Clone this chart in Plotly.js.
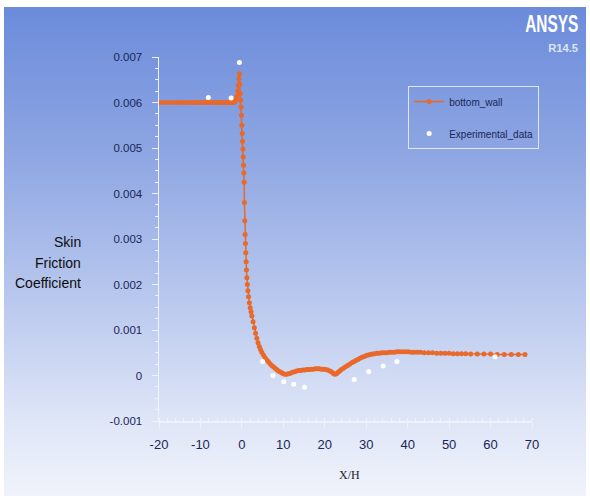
<!DOCTYPE html>
<html>
<head>
<meta charset="utf-8">
<script src="https://cdn.plot.ly/plotly-3.0.1.min.js"></script>
<style>
  html, body { margin: 0; padding: 0; background: #ffffff; }
  #wrap { position: relative; width: 590px; height: 502px; overflow: hidden; }
  #bg { position: absolute; left: 4px; top: 7px; width: 582px; height: 489px;
        background: linear-gradient(to bottom, #6b8bdb 0%, #8ea6e2 30%, #b9c8ee 60%, #dfe6f7 85%, #f0f3fb 100%); }
  #chart { position: absolute; left: 0; top: 0; width: 590px; height: 502px; }
</style>
</head>
<body>
<div id="wrap"><div id="bg"></div><div id="chart"></div></div>
<script>
// ---- data ----
const wallX = [
  -20, -19.1, -18.2, -17.3, -16.4, -15.5, -14.7, -13.9, -13.1, -12.3, -11.6, -10.9, -10.2, -9.5, -8.9, -8.3,
  -7.7, -7.2, -6.7, -6.2, -5.7, -5.3, -4.9, -4.5, -4.1, -3.8, -3.5, -3.2, -2.9, -2.6, -2.4, -2.2, -2.0,
  -1.8, -1.6, -1.4, -1.2, -1.0, -0.85, -0.7, -0.6,
  -0.5, -0.4, -0.3, -0.2, -0.1, 0.0, 0.08, 0.16, 0.24, 0.32, 0.4, 0.47, 0.54, 0.6, 0.7, 0.78, 0.86, 0.94,
  1.02, 1.1, 1.2, 1.32, 1.45, 1.6, 1.8, 2.0, 2.2, 2.4, 2.7, 3.0, 3.3, 3.6, 3.9, 4.2, 4.5, 4.8, 5.2, 5.6,
  6.0, 6.4, 6.8, 7.2, 7.6, 8.0, 8.4, 8.8, 9.2, 9.6, 10.0, 10.4, 10.8, 11.2, 11.7, 12.2, 12.7, 13.2, 13.7,
  14.2, 14.7, 15.2, 15.7, 16.2, 16.7, 17.2, 17.7, 18.2, 18.7, 19.2, 19.7, 20.2, 20.7, 21.2, 21.6, 22.0,
  22.4, 22.8, 23.2, 23.6, 24.0, 24.5, 25.0, 25.5, 26.0, 26.5, 27.0, 27.5, 28.0, 28.5, 29.0, 29.5, 30.0,
  30.5, 31.0, 31.5, 32.0, 32.6, 33.2, 33.8, 34.4, 35.0, 35.6, 36.2, 36.8, 37.4, 38.0, 38.7, 39.4, 40.1,
  40.8, 41.5, 42.3, 43.1, 44.0, 45.0, 46.0, 47.0, 48.0, 49.0, 50.0, 51.0, 52.0, 53.0, 54.0, 55.2, 56.8,
  58.4, 60.0, 61.6, 63.3, 65.0, 66.7, 68.3
];
const wallY = [
  0.00600, 0.00600, 0.00600, 0.00600, 0.00600, 0.00600, 0.00600, 0.00600, 0.00600, 0.00600, 0.00600, 0.00600, 0.00600, 0.00600, 0.00600, 0.00600,
  0.00600, 0.00600, 0.00600, 0.00600, 0.00600, 0.00600, 0.00600, 0.00600, 0.00600, 0.00600, 0.00600, 0.00600, 0.00600, 0.00600, 0.00600, 0.00600, 0.00600,
  0.00601, 0.00603, 0.00607, 0.00614, 0.00625, 0.00638, 0.00652, 0.00663,
  0.00640, 0.00620, 0.00605, 0.00590, 0.00572, 0.00550, 0.00532, 0.00515, 0.00498, 0.00480, 0.00462, 0.00445, 0.00425, 0.00380, 0.00340, 0.00310, 0.00290, 0.00270,
  0.00250, 0.00232, 0.00215, 0.00200, 0.00186, 0.00173, 0.00160, 0.00149, 0.00140, 0.00131, 0.00118, 0.00105, 0.00093, 0.00082, 0.00072, 0.00064, 0.00057, 0.00051, 0.00045, 0.00039,
  0.00034, 0.00030, 0.00026, 0.00022, 0.00019, 0.00016, 0.00013, 0.00010, 0.00008, 0.00006, 0.00004, 0.00003, 0.00003, 0.00004, 0.00005, 0.00007, 0.00008, 0.00010, 0.00011,
  0.00011, 0.00012, 0.00012, 0.00013, 0.00013, 0.00014, 0.00014, 0.00015, 0.00015, 0.00015, 0.00014, 0.00014, 0.00013, 0.00012, 0.00010, 0.00008, 0.00005,
  0.00003, 0.00004, 0.00007, 0.00010, 0.00013, 0.00016, 0.00019, 0.00022, 0.00025, 0.00028, 0.00030, 0.00033, 0.00035, 0.00038, 0.00040, 0.00042, 0.00044,
  0.00045, 0.00046, 0.00047, 0.00048, 0.00049, 0.00049, 0.00050, 0.00050, 0.00050, 0.00051, 0.00051, 0.00051, 0.00052, 0.00052, 0.00052, 0.00052, 0.00052,
  0.00051, 0.00051, 0.00051, 0.00051, 0.00050, 0.00050, 0.00050, 0.00049, 0.00049, 0.00049, 0.00049, 0.00048, 0.00048, 0.00048, 0.00048, 0.00047, 0.00047,
  0.00047, 0.00047, 0.00046, 0.00046, 0.00046, 0.00046, 0.00046
];
const expX = [-8.1, -2.6, -0.6, 5.0, 7.5, 10.1, 12.5, 15.1, 27.1, 30.6, 34.1, 37.4, 61.1];
const expY = [0.00611, 0.00610, 0.00688, 0.00031, 0.00000, -0.00014, -0.00019, -0.00026, -0.00009, 0.00008, 0.00021, 0.00031, 0.00041];

const xTickVals = [-20, -10, 0, 10, 20, 30, 40, 50, 60, 70];
const xTickText = ['-20', '-10', '0', '10', '20', '30', '40', '50', '60', '70'];
const yTickVals = [-0.001, 0, 0.001, 0.002, 0.003, 0.004, 0.005, 0.006, 0.007];
const yTickText = ['-0.001', '0', '0.001', '0.002', '0.003', '0.004', '0.005', '0.006', '0.007'];
const seriesNames = ['bottom_wall', 'Experimental_data'];
const yTitleLines = ['Skin', 'Friction', 'Coefficient'];

// ---- drawing ----
const sans = '"Liberation Sans", Arial, sans-serif';
const tickColor = '#1a2657';
const axisColor = '#eef2fb';

const traces = [
  {
    x: wallX, y: wallY, name: seriesNames[0], type: 'scatter', mode: 'lines+markers',
    line: {color: '#e8692a', width: 1.5},
    marker: {color: '#e8692a', size: 5, symbol: 'circle'},
    legendgroup: 'a'
  },
  {
    x: expX, y: expY, name: seriesNames[1], type: 'scatter', mode: 'markers',
    marker: {color: '#ffffff', size: 5, symbol: 'circle'},
    legendgroup: 'b'
  }
];

const annotations = [];
const lineY = [0.492, 0.435, 0.380];
yTitleLines.forEach((t, i) => {
  annotations.push({
    text: t, xref: 'paper', yref: 'paper', x: -0.204, y: lineY[i],
    xanchor: 'right', yanchor: 'middle', showarrow: false,
    font: {family: sans, size: 14, color: '#0d0d0d'}
  });
});
annotations.push({
  text: 'X/H', xref: 'paper', yref: 'paper', x: 0.51, y: -0.148,
  xanchor: 'center', yanchor: 'middle', showarrow: false,
  font: {family: '"Liberation Serif", "DejaVu Serif", serif', size: 12, color: '#222222'}
});
annotations.push({
  text: '<b>ANSYS</b>', xref: 'paper', yref: 'paper', x: 1.1287, y: 1.091,
  xanchor: 'right', yanchor: 'middle', showarrow: false,
  font: {family: sans, size: 23, color: '#ffffff'}
});
annotations.push({
  text: '<b>R14.5</b>', xref: 'paper', yref: 'paper', x: 1.1287, y: 1.022,
  xanchor: 'right', yanchor: 'middle', showarrow: false,
  font: {family: sans, size: 10, color: '#dbe3f6'}
});

const layout = {
  width: 590, height: 502,
  margin: {l: 159, r: 58, t: 57, b: 81, pad: 0},
  paper_bgcolor: 'rgba(0,0,0,0)',
  plot_bgcolor: 'rgba(0,0,0,0)',
  showlegend: true,
  legend: {
    x: 0.668, y: 0.92, xanchor: 'left', yanchor: 'top',
    bgcolor: 'rgba(0,0,0,0)', bordercolor: '#dfe7f7', borderwidth: 1,
    font: {family: sans, size: 10, color: tickColor},
    tracegroupgap: 13
  },
  xaxis: {
    range: [-20, 70], tickvals: xTickVals, ticktext: xTickText,
    showgrid: false, zeroline: false,
    showline: true, linecolor: axisColor, linewidth: 1.5,
    ticks: 'outside', ticklen: 5, tickcolor: axisColor, tickwidth: 1,
    ticklabelstandoff: 6,
    minor: {dtick: 2, ticks: 'inside', ticklen: 3, tickcolor: axisColor, showgrid: false},
    tickfont: {family: sans, size: 13, color: tickColor}
  },
  yaxis: {
    range: [-0.001, 0.007], tickvals: yTickVals, ticktext: yTickText,
    showgrid: false, zeroline: false,
    showline: true, linecolor: axisColor, linewidth: 1.5,
    ticks: 'outside', ticklen: 6, tickcolor: axisColor, tickwidth: 1,
    ticklabelstandoff: 7,
    minor: {dtick: 0.00025, ticks: 'outside', ticklen: 3, tickcolor: axisColor, showgrid: false},
    tickfont: {family: sans, size: 11.5, color: tickColor}
  },
  annotations: annotations
};

Plotly.newPlot('chart', traces, layout, {displayModeBar: false, staticPlot: true}).then(gd => {
  // condense the ANSYS badge text, right-aligned at x = 580 px (text stays real text)
  const ctm = gd.querySelector('.main-svg');
  gd.querySelectorAll('.annotation-text').forEach(t => {
    const s = t.textContent;
    if (s === 'ANSYS' || s === 'R14.5') {
      const bb = t.getBBox();
      const right = bb.x + bb.width;
      const target = s === 'ANSYS' ? 53 : 30;
      t.setAttribute('text-anchor', 'end');
      t.setAttribute('x', String(right));
      t.setAttribute('textLength', String(target));
      t.setAttribute('lengthAdjust', 'spacingAndGlyphs');
    }
  });
});
</script>
</body>
</html>
